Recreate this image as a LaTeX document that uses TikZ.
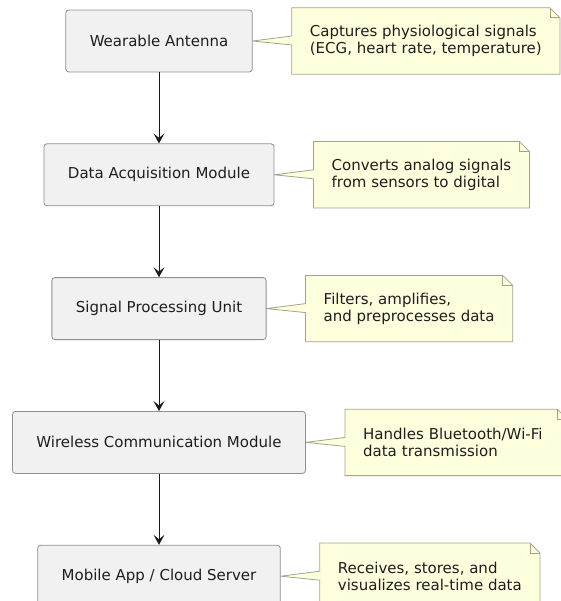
\documentclass[tikz,border=0pt]{standalone}
\usepackage{fontspec}
\setmainfont{DejaVu Sans}
\usepackage{tikz}
\usetikzlibrary{arrows.meta, positioning, backgrounds}

\definecolor{boxfill}{HTML}{F1F1F1}
\definecolor{boxline}{HTML}{8E8E8E}
\definecolor{notefill}{HTML}{FEFFDD}
\definecolor{noteline}{HTML}{A3A38C}
\definecolor{txt}{HTML}{1E1E1E}

% note outline with dog-ear and the pointer towards its module
\newcommand{\notebg}[2]{%
\filldraw[fill=notefill, draw=noteline, line width=0.8pt]
(#1.north west) -- ([xshift=-10pt]#1.north east) -- ([yshift=-10pt]#1.north east)
-- (#1.south east) -- (#1.south west) -- cycle;
\draw[draw=noteline, line width=0.8pt]
([xshift=-10pt]#1.north east) |- ([yshift=-10pt]#1.north east);
\fill[notefill] (#2.east) -- ([xshift=1pt,yshift=5pt]#1.west) -- ([xshift=1pt,yshift=-4pt]#1.west) -- cycle;
\draw[draw=noteline, line width=0.8pt]
([yshift=5pt]#1.west) -- (#2.east) -- ([yshift=-4pt]#1.west);
}

\begin{document}
\begin{tikzpicture}[
x=1pt, y=1pt,
font=\fontsize{15pt}{17pt}\selectfont,
modbox/.style={
rectangle,
rounded corners=3pt,
draw=boxline,
line width=0.8pt,
fill=boxfill,
text=txt,
align=center,
inner xsep=24pt,
minimum height=62pt
},
notebox/.style={
rectangle,
align=left,
text=txt,
inner xsep=18pt,
minimum height=66pt
},
flow/.style={
draw=black!90,
line width=1pt,
-{Stealth[length=10pt, width=11pt, inset=4.5pt]}
}
]

\useasboundingbox (0,0) rectangle (560,-601);

\node[modbox] (antenna) at (159,-41) {Wearable Antenna};
\node[modbox, below=71pt of antenna] (daq) {Data Acquisition Module};
\node[modbox, below=71pt of daq] (dsp) {Signal Processing Unit};
\node[modbox, below=71pt of dsp] (radio) {Wireless Communication Module};
\node[modbox, below=71pt of radio] (app) {Mobile App / Cloud Server};

\node[notebox, right=39pt of antenna] (antennanote)
{Captures physiological signals\\(ECG, heart rate, temperature)};
\node[notebox, right=39pt of daq] (daqnote)
{Converts analog signals\\from sensors to digital};
\node[notebox, right=39pt of dsp] (dspnote)
{Filters, amplifies,\\and preprocesses data};
\node[notebox, right=39pt of radio, text width=186pt] (radionote)
{Handles Bluetooth/Wi-Fi\\data transmission};
\node[notebox, right=39pt of app] (appnote)
{Receives, stores, and\\visualizes real-time data};

\begin{scope}[on background layer]
\notebg{antennanote}{antenna}
\notebg{daqnote}{daq}
\notebg{dspnote}{dsp}
\notebg{radionote}{radio}
\notebg{appnote}{app}
\end{scope}

\draw[flow] (antenna.south) -- (daq.north);
\draw[flow] (daq.south) -- (dsp.north);
\draw[flow] (dsp.south) -- (radio.north);
\draw[flow] (radio.south) -- (app.north);

\end{tikzpicture}
\end{document}
